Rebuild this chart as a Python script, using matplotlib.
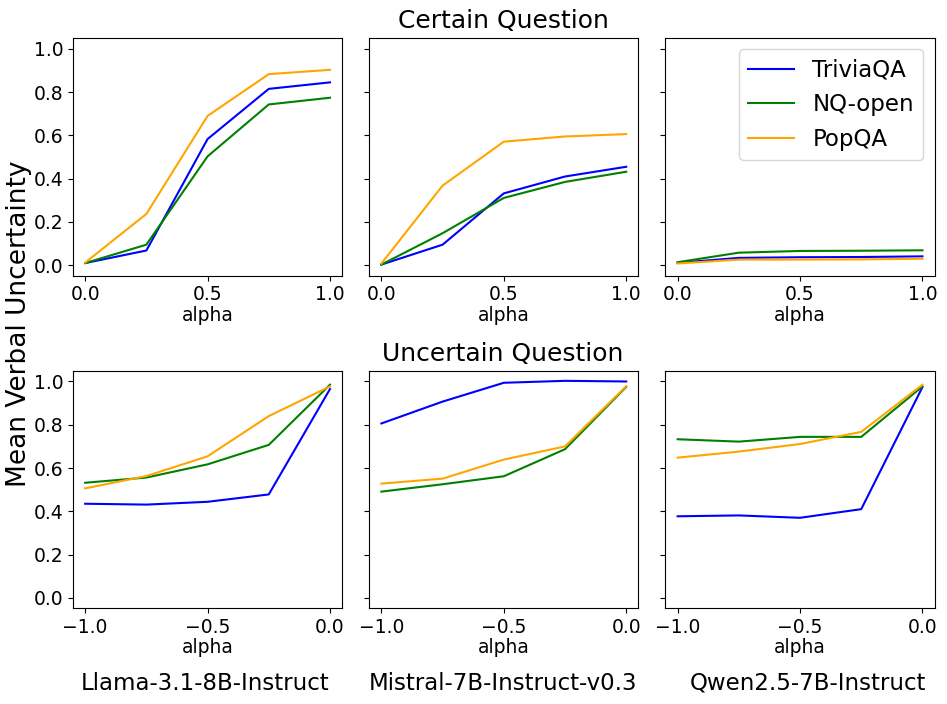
import numpy as np
import matplotlib
matplotlib.use('Agg')
import matplotlib.pyplot as plt

# alpha values
alpha_certain = [0.0, 0.25, 0.5, 0.75, 1.0]
alpha_uncertain = [-1.0, -0.75, -0.5, -0.25, 0.0]

models = ['Llama-3.1-8B-Instruct', 'Mistral-7B-Instruct-v0.3', 'Qwen2.5-7B-Instruct']
datasets = ['TriviaQA', 'NQ-open', 'PopQA']
colors = ['blue', 'green', 'orange']

# Certain question, one list per model: TriviaQA, NQ-open, PopQA
certain_llama = [
    [0.010, 0.068, 0.583, 0.815, 0.845],
    [0.010, 0.095, 0.503, 0.743, 0.774],
    [0.012, 0.237, 0.690, 0.883, 0.903],
]
certain_mistral = [
    [0.003, 0.095, 0.332, 0.410, 0.455],
    [0.003, 0.148, 0.311, 0.385, 0.432],
    [0.008, 0.368, 0.571, 0.595, 0.606],
]
certain_qwen = [
    [0.011, 0.034, 0.037, 0.038, 0.041],
    [0.014, 0.058, 0.066, 0.067, 0.069],
    [0.008, 0.026, 0.026, 0.027, 0.030],
]

# Uncertain question
uncertain_llama = [
    [0.435, 0.431, 0.444, 0.478, 0.965],
    [0.532, 0.556, 0.617, 0.707, 0.985],
    [0.506, 0.563, 0.654, 0.840, 0.977],
]
uncertain_mistral = [
    [0.806, 0.907, 0.994, 1.003, 1.000],
    [0.491, 0.525, 0.562, 0.687, 0.975],
    [0.528, 0.551, 0.639, 0.700, 0.978],
]
uncertain_qwen = [
    [0.377, 0.381, 0.370, 0.410, 0.974],
    [0.733, 0.722, 0.744, 0.744, 0.977],
    [0.648, 0.676, 0.711, 0.767, 0.985],
]

certain = [certain_llama, certain_mistral, certain_qwen]
uncertain = [uncertain_llama, uncertain_mistral, uncertain_qwen]

fig, axes = plt.subplots(2, 3, figsize=(9.47, 7.04), dpi=100, sharey=True)
fig.subplots_adjust(left=0.077, right=0.987, top=0.946, bottom=0.136,
                    wspace=0.1, hspace=0.4)

for col in range(3):
    ax = axes[0, col]
    for vals, c, name in zip(certain[col], colors, datasets):
        ax.plot(alpha_certain, vals, color=c, lw=1.5, label=name)
    ax.set_xticks([0.0, 0.5, 1.0])
    ax.set_xlabel('alpha', fontsize=13.5, labelpad=1)

    ax = axes[1, col]
    for vals, c, name in zip(uncertain[col], colors, datasets):
        ax.plot(alpha_uncertain, vals, color=c, lw=1.5, label=name)
    ax.set_xticks([-1.0, -0.5, 0.0])
    ax.set_xlabel('alpha', fontsize=13.5, labelpad=1)

for ax in axes.flat:
    ax.set_ylim(-0.048, 1.05)
    ax.set_yticks([0.0, 0.2, 0.4, 0.6, 0.8, 1.0])
    ax.tick_params(labelsize=13.5)

axes[0, 2].legend(loc='upper right', fontsize=16.5)

fig.text(503 / 947, 1 - 21 / 704, 'Certain Question', ha='center', va='center', fontsize=18)
fig.text(503 / 947, 1 - 354 / 704, 'Uncertain Question', ha='center', va='center', fontsize=18)
fig.text(19 / 947, 1 - 324 / 704, 'Mean Verbal Uncertainty', ha='center', va='center',
         rotation=90, fontsize=19)

centers = [205, 503, 808]
for x, m in zip(centers, models):
    fig.text(x / 947, 1 - 683 / 704, m, ha='center', va='center', fontsize=16.5)

fig.savefig('out.png', dpi=100)
